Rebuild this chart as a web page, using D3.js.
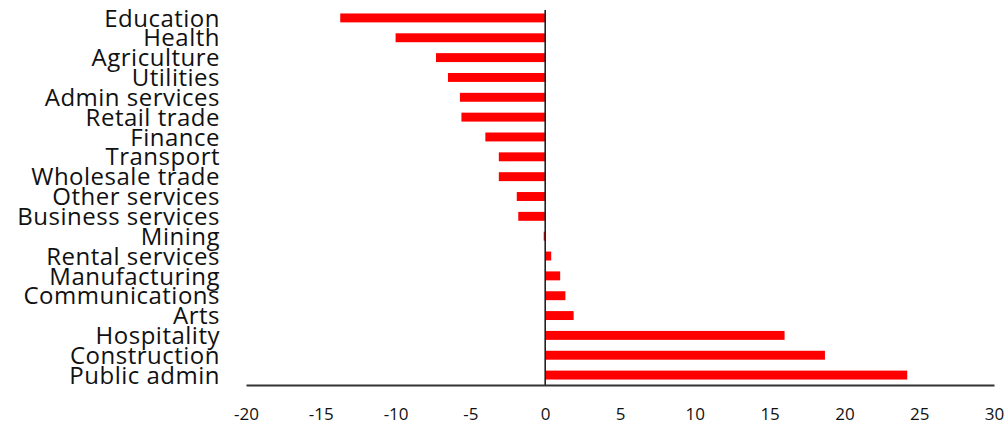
<!DOCTYPE html>
<html>
<head>
<meta charset="utf-8">
<script src="https://cdn.jsdelivr.net/npm/d3@7"></script>
<style>
  body { margin: 0; background: #fff; }
  svg { display: block; }
</style>
</head>
<body>
<div id="chart"></div>
<script>
// industries, top to bottom
const categories = [
    "Education", "Health", "Agriculture", "Utilities", "Admin services",
    "Retail trade", "Finance", "Transport", "Wholesale trade", "Other services",
    "Business services", "Mining", "Rental services", "Manufacturing",
    "Communications", "Arts", "Hospitality", "Construction", "Public admin"
];

// change, per cent
const values = [
    -13.7, -10.0, -7.3, -6.5, -5.7,
    -5.6, -4.0, -3.1, -3.1, -1.9,
    -1.8, -0.1, 0.4, 1.0,
    1.35, 1.9, 16.0, 18.7, 24.2
];

const tickValues = [-20, -15, -10, -5, 0, 5, 10, 15, 20, 25, 30];

const data = categories.map((c, i) => ({ category: c, value: values[i] }));

const w = 1007;
const h = 425;

const svg = d3.select("#chart")
    .append("svg")
    .attr("width", w)
    .attr("height", h);

// Scales
const x = d3.scaleLinear()
    .domain([-20, 30])
    .range([246, 994]);

const y = d3.scaleBand()
    .domain(categories)
    .range([8, 385])
    .paddingInner(0.55)
    .paddingOuter(0.275);

// Bars
svg.selectAll("rect.bar")
    .data(data)
    .enter()
    .append("rect")
    .attr("class", "bar")
    .attr("x", d => x(Math.min(0, d.value)))
    .attr("y", d => y(d.category))
    .attr("width", d => Math.abs(x(d.value) - x(0)))
    .attr("height", y.bandwidth())
    .attr("fill", "#ff0000");

// zero line
svg.append("line")
    .attr("x1", x(0))
    .attr("x2", x(0))
    .attr("y1", 10)
    .attr("y2", 385)
    .attr("stroke", "#222")
    .attr("stroke-width", 1.6);

// X axis, no tick marks
const xAxis = svg.append("g")
    .attr("transform", "translate(0,385)")
    .call(
        d3.axisBottom(x)
            .tickValues(tickValues)
            .tickFormat(d => String(d))
            .tickSize(0)
            .tickPadding(23)
    );

xAxis.select(".domain")
    .attr("stroke", "#333")
    .attr("stroke-width", 2);

xAxis.selectAll("text")
    .style("font-family", "'Open Sans', sans-serif")
    .style("font-size", "17px")
    .style("fill", "#111");

// category labels (they crowd each other, as in the original)
svg.selectAll("text.cat")
    .data(categories)
    .enter()
    .append("text")
    .attr("class", "cat")
    .attr("x", 220)
    .attr("y", d => y(d) + y.bandwidth() / 2)
    .attr("dy", "0.36em")
    .attr("text-anchor", "end")
    .style("font-family", "'Open Sans', sans-serif")
    .style("font-size", "24px")
    .style("letter-spacing", "0.5px")
    .style("fill", "#111")
    .text(d => d);
</script>
</body>
</html>
